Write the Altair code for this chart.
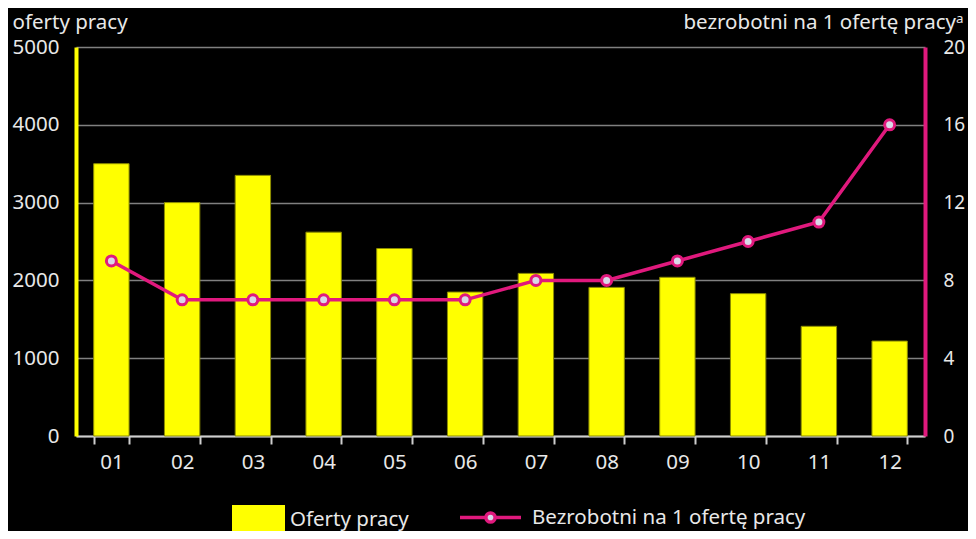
import altair as alt
import pandas as pd

months = ["01", "02", "03", "04", "05", "06", "07", "08", "09", "10", "11", "12"]
oferty = [3500, 3000, 3350, 2620, 2410, 1850, 2090, 1910, 2040, 1830, 1410, 1220]
bezrobotni = [9, 7, 7, 7, 7, 7, 8, 8, 9, 10, 11, 16]
bar_name = "Oferty pracy"
line_name = "Bezrobotni na 1 ofertę pracy"
left_title = "oferty pracy"
right_title = "bezrobotni na 1 ofertę pracyᵃ"

df = pd.DataFrame({"m": months, "oferty": oferty, "bezrob": bezrobotni})
df["s_bar"] = bar_name
df["s_line"] = line_name

FONT = "Noto Sans"
FS = 20.5
TXT = "#e8e8e8"
YEL = "#ffff00"
MAG = "#e0197d"

x = alt.X("m:N", sort=months,
          scale=alt.Scale(paddingInner=0.5, paddingOuter=0.25),
          axis=alt.Axis(title=None, labelAngle=0, tickBand="extent", tickSize=8,
                        tickColor="#cfcfcf", tickWidth=2, domainColor="#cfcfcf",
                        domainWidth=2, labelPadding=8, labelFontSize=FS, grid=False))

bars = alt.Chart(df).mark_bar(stroke="#8c8c00", strokeWidth=1).encode(
    x=x,
    y=alt.Y("oferty:Q", scale=alt.Scale(domain=[0, 5000]),
            axis=alt.Axis(title=left_title, titleAngle=0, titleAlign="left",
                          titleBaseline="top", titleX=-64, titleY=-35,
                          titleFontWeight="normal", format="d",
                          values=[0, 1000, 2000, 3000, 4000, 5000],
                          ticks=False, tickSize=0, labelPadding=17,
                          domainColor=YEL, domainWidth=4,
                          grid=True, gridColor="#808080", gridWidth=1.5)),
    fill=alt.Fill("s_bar:N",
                  scale=alt.Scale(domain=[bar_name], range=[YEL]),
                  legend=alt.Legend(title=None, orient="none", legendX=156, legendY=446,
                                    symbolType="M-1,-0.55H1V0.55H-1Z", symbolSize=2809,
                                    symbolStrokeWidth=0, labelOffset=5, padding=0,
                                    labelLimit=400)),
)

line = alt.Chart(df).mark_line(
    strokeWidth=3.5,
    point=alt.OverlayMarkDef(filled=True, fill="#d8d8e8", stroke=MAG, strokeWidth=3, size=100),
).encode(
    x=x,
    y=alt.Y("bezrob:Q", scale=alt.Scale(domain=[0, 20]),
            axis=alt.Axis(orient="right", title=right_title, titleAngle=0, titleAlign="right",
                          titleBaseline="top", titleX=38, titleY=-35,
                          titleFontWeight="normal", format="d",
                          values=[0, 4, 8, 12, 16, 20],
                          ticks=False, tickSize=0, labelPadding=18, labelFontSize=19,
                          domainColor=MAG, domainWidth=4, grid=False)),
    stroke=alt.Stroke("s_line:N",
                      scale=alt.Scale(domain=[line_name], range=[MAG]),
                      legend=alt.Legend(title=None, orient="none", legendX=382, legendY=438,
                                        symbolType="M-1,0H-0.15M0.15,0H1M0.15,0A0.15,0.15 0 1,1 -0.15,0A0.15,0.15 0 1,1 0.15,0Z",
                                        symbolSize=3721, symbolStrokeWidth=3.5,
                                        symbolFillColor="#d8d8e8", labelOffset=9, padding=0,
                                        labelLimit=400)),
)

chart = alt.layer(bars, line).resolve_scale(
    y="independent", fill="independent", stroke="independent"
).properties(
    width=849, height=389,
    autosize=alt.AutoSizeParams(type="none"),
    padding={"left": 68, "top": 39, "right": 43, "bottom": 95},
    background="#000000",
).configure_view(stroke=None).configure_axis(
    labelFont=FONT, titleFont=FONT, labelColor=TXT, titleColor=TXT,
    labelFontSize=FS, titleFontSize=FS,
).configure_legend(labelFont=FONT, labelColor=TXT, labelFontSize=FS)

chart.save("out.html", embed_options={"renderer": "svg", "actions": False})
